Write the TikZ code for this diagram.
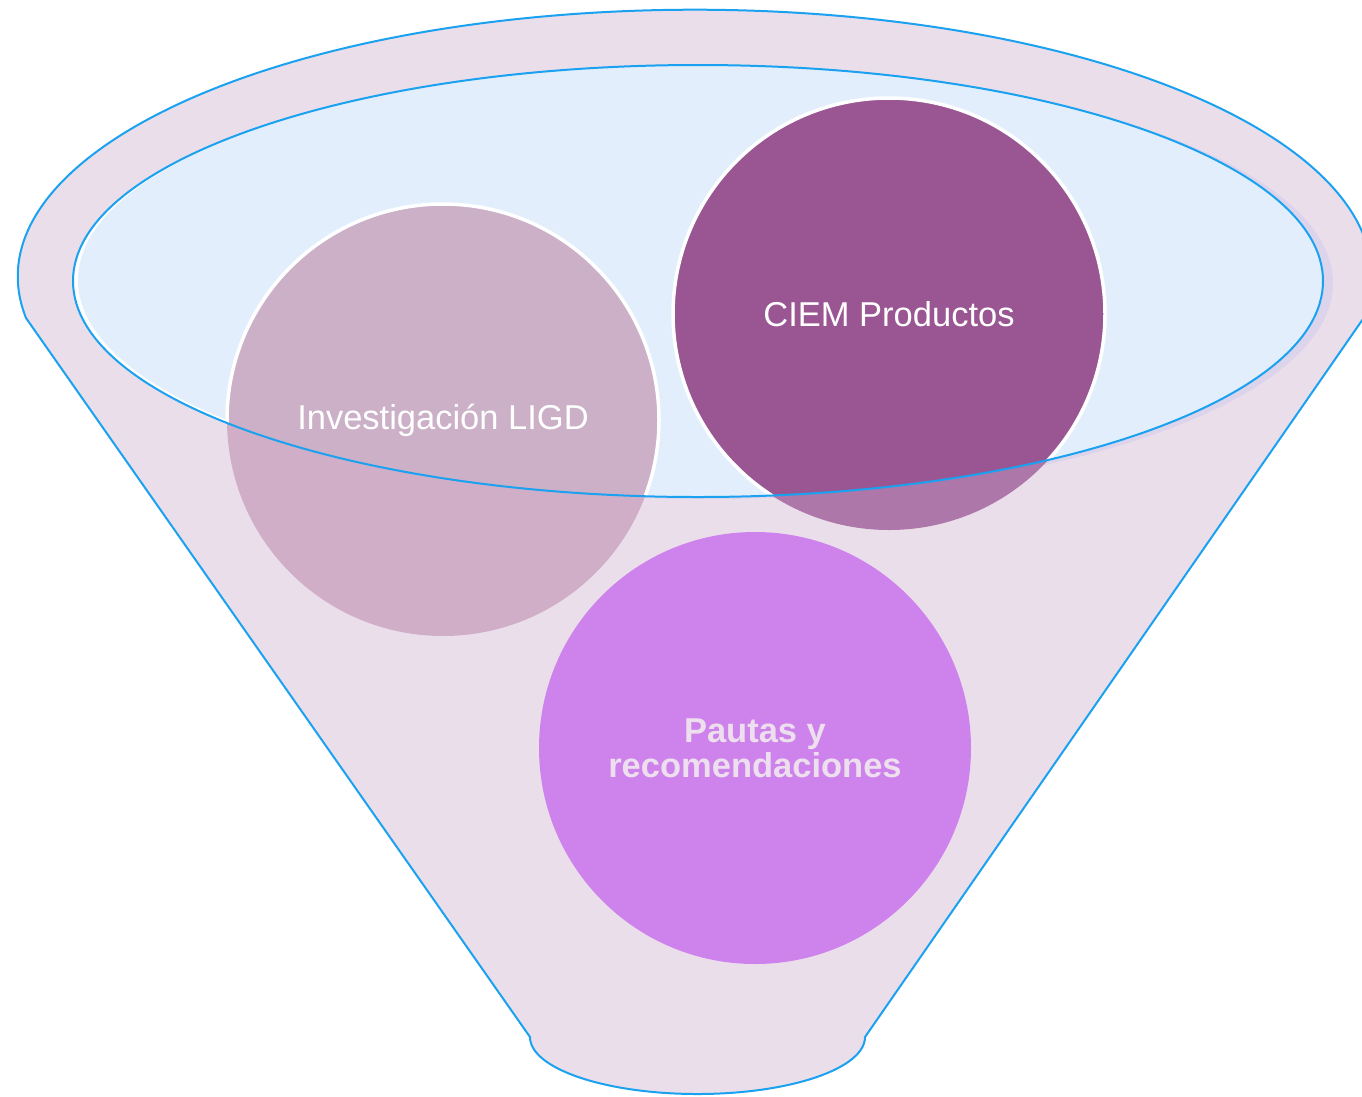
\documentclass[tikz,border=0pt]{standalone}
\usepackage{fontspec}
\setmainfont{Liberation Sans}
\definecolor{funnelfill}{HTML}{EBDEEB}
\definecolor{bluel}{HTML}{1AA1F0}
\definecolor{innerfill}{HTML}{E2EEFC}
\definecolor{shadowc}{HTML}{DCD4EB}
\definecolor{invtop}{HTML}{CBB0C7}
\definecolor{invbot}{HTML}{D0AEC8}
\definecolor{ciemtop}{HTML}{9A5593}
\definecolor{ciembot}{HTML}{AE77AA}
\definecolor{pautas}{HTML}{CD82EC}
\definecolor{pautastext}{HTML}{EDDFEE}
\begin{document}
\begin{tikzpicture}[x=1pt,y=1pt,
  outline/.style={draw=bluel,line width=2pt},
  lbl/.style={font=\fontsize{34.5}{35}\selectfont,text=white,align=center,inner sep=0pt}]
\useasboundingbox (0,0) rectangle (1362,-1096);
% funnel body
\draw[outline,fill=funnelfill,line join=round]
  (530,-1037) -- (26,-318)
  arc[start angle=188.9,end angle=-8.9,x radius=677pt,y radius=267pt]
  -- (865,-1037)
  arc[start angle=0,end angle=-180,x radius=167.5pt,y radius=57pt]
  -- cycle;
% shadow of the opening
\fill[shadowc] (708,-283) ellipse[x radius=625pt,y radius=216pt];
% opening
\begin{scope}
  \clip (698,-281) ellipse[x radius=625pt,y radius=216pt];
  \fill[white] (698,-281) ellipse[x radius=625pt,y radius=216pt];
  \fill[innerfill] (703,-280) ellipse[x radius=625pt,y radius=216pt];
\end{scope}
% circles (lower parts)
\fill[invbot] (443,-420) circle[radius=216pt];
\fill[ciembot] (889,-314) circle[radius=216pt];
% circles (parts inside the opening)
\begin{scope}
  \clip (698,-281) ellipse[x radius=625pt,y radius=216pt];
  \draw[white,line width=3.5pt,fill=invtop] (443,-420) circle[radius=216pt];
  \draw[white,line width=3.5pt,fill=ciemtop] (889,-314) circle[radius=216pt];
\end{scope}
% rim of the opening
\draw[outline] (698,-281) ellipse[x radius=625pt,y radius=216pt];
% bottom circle
\fill[pautas] (755,-748) circle[radius=216pt];
% labels
\node[lbl] (inv) at (443,-420) {Investigación LIGD};
\node[lbl] (ciem) at (889,-314) {CIEM Productos};
\node[lbl,text=pautastext,font=\fontsize{34.5}{35}\selectfont\bfseries] (pau) at (755,-748) {Pautas y\\recomendaciones};
\end{tikzpicture}
\end{document}
